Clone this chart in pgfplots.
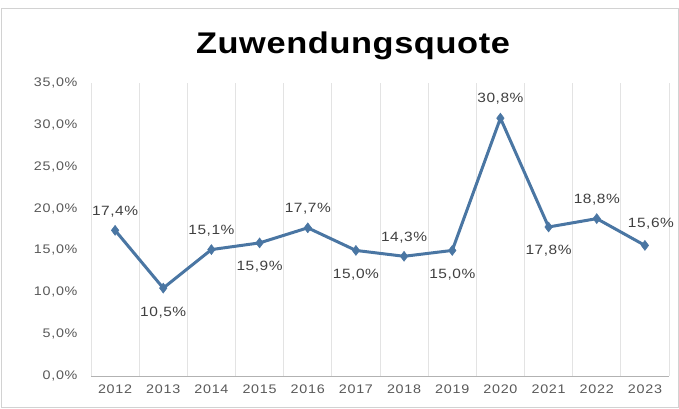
\documentclass[border=0pt]{standalone}
\usepackage{fontspec}
\setmainfont{Liberation Sans}[FakeStretch=1.15]
\usepackage{pgfplots}
\pgfplotsset{compat=1.18}

\definecolor{linecol}{HTML}{4A76A3}
\definecolor{tickcol}{HTML}{595959}
\definecolor{labcol}{HTML}{404040}
\definecolor{gridcol}{HTML}{E3E3E3}

\newcommand{\tickfont}{\fontsize{12.5}{14}\selectfont\addfontfeature{LetterSpace=6}}
\newcommand{\labfont}{\fontsize{13.5}{15}\selectfont\addfontfeature{LetterSpace=4}}

\begin{document}
\begin{tikzpicture}[x=1bp,y=1bp]
\path[fill=white] (0,0) rectangle (679,408);
\draw[gray!35, line width=0.8bp] (1,1) rectangle (678,400);
\node[font=\fontsize{30}{34}\selectfont\bfseries\addfontfeature{LetterSpace=2}, text=black] at (353,362) {Zuwendungsquote};
\begin{axis}[
    at={(91bp,32bp)}, anchor=south west,
    scale only axis,
    width=578bp, height=293bp,
    xmin=-0.5, xmax=11.5,
    ymin=0, ymax=35,
    xtick={0,...,11},
    xticklabels={2012,2013,2014,2015,2016,2017,2018,2019,2020,2021,2022,2023},
    minor xtick={-0.5,0.5,...,11.5},
    xminorgrids=true,
    minor grid style={gridcol, line width=1bp},
    ytick={0,5,...,35},
    yticklabels={{0,0\%},{5,0\%},{10,0\%},{15,0\%},{20,0\%},{25,0\%},{30,0\%},{35,0\%}},
    ticklabel style={font=\tickfont, text=tickcol},
    major tick length=0pt, minor tick length=0pt,
    axis line style={draw=none},
    axis x line*=bottom,
    axis y line*=left,
    xtick pos=bottom, ytick pos=left,
    yticklabel style={xshift=-10bp},
    xticklabel style={yshift=-5bp},
    clip=false,
]
\draw[gray!60, line width=0.8bp] (axis cs:-0.5,0) -- (axis cs:11.5,0);
\addplot[linecol, line width=3bp, mark=diamond*, mark size=5bp, mark options={fill=linecol, line width=0.5bp}] coordinates {
(0,17.4) (1,10.5) (2,15.1) (3,15.9) (4,17.7) (5,15.0) (6,14.3) (7,15.0) (8,30.8) (9,17.8) (10,18.8) (11,15.6)
};
% labels above
\addplot[draw=none, mark=none, nodes near coords, point meta=explicit symbolic,
  every node near coord/.append style={font=\labfont, text=labcol, anchor=south, yshift=10bp}] coordinates {
(0,17.4) [17,4\%] (2,15.1) [15,1\%] (4,17.7) [17,7\%] (6,14.3) [14,3\%] (8,30.8) [30,8\%] (10,18.8) [18,8\%]
};
% labels below
\addplot[draw=none, mark=none, nodes near coords, point meta=explicit symbolic,
  every node near coord/.append style={font=\labfont, text=labcol, anchor=north, yshift=-15bp}] coordinates {
(1,10.5) [10,5\%] (3,15.9) [15,9\%] (5,15.0) [15,0\%] (7,15.0) [15,0\%] (9,17.8) [17,8\%]
};
% label right
\addplot[draw=none, mark=none, nodes near coords, point meta=explicit symbolic,
  every node near coord/.append style={font=\labfont, text=labcol, anchor=south, xshift=6bp, yshift=13bp}] coordinates {
(11,15.6) [15,6\%]
};
\end{axis}
\end{tikzpicture}
\end{document}
